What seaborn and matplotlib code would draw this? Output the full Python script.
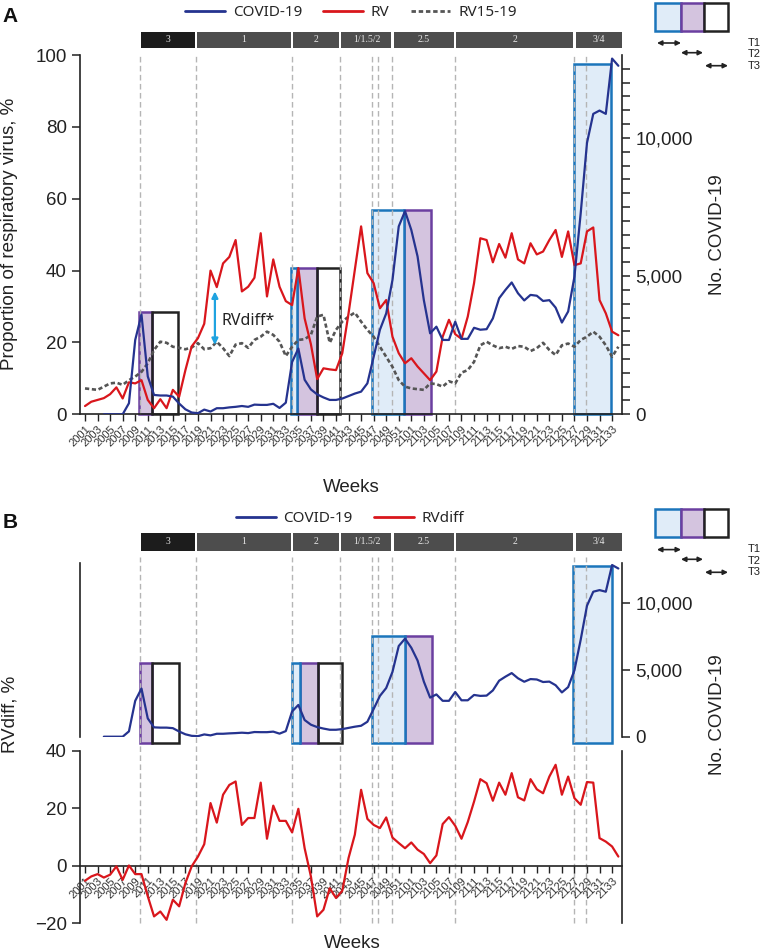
import pandas as pd
import matplotlib
matplotlib.use('Agg')
import matplotlib.pyplot as plt
import matplotlib.transforms as mtransforms
import seaborn as sns
from matplotlib.patches import Rectangle, FancyArrowPatch
from matplotlib.lines import Line2D
from matplotlib.ticker import FuncFormatter

# ---------------------------------------------------------------- data
weeks = [f'20{w:02d}' for w in range(1, 53)] + [f'21{w:02d}' for w in range(1, 35)]

# weekly COVID-19 cases (right axis)
covid = [None, None, None, 0, 0, 0, 0, 400, 2690, 3610,
         1370, 700, 680, 680, 640, 390, 180, 65, 40, 170,
         100, 220, 220, 250, 270, 300, 270, 350, 340, 340,
         380, 230, 420, 1890, 2380, 1250, 900, 720, 610, 520,
         520, 570, 660, 750, 820, 1120, 2080, 3060, 3650, 4860,
         6800, 7350, 6670, 5710, 4130, 2930, 3170, 2690, 2690, 3350,
         2730, 2730, 3130, 3060, 3080, 3470, 4200, 4500, 4770, 4380,
         4120, 4320, 4290, 4100, 4130, 3860, 3320, 3720, 4980, 7280,
         9820, 10870, 10990, 10870, 12870, 12610]

# proportion of rhinovirus, %
rv = [2.3, 3.5, 4.0, 4.5, 5.6, 7.5, 4.4, 8.9, 8.6, 9.5,
      4.0, 1.7, 4.2, 1.7, 6.8, 4.9, 12.3, 18.9, 21.2, 25.2,
      40.0, 35.4, 42.0, 43.8, 48.5, 34.2, 35.5, 38.0, 50.4, 32.8,
      43.1, 35.5, 31.5, 30.4, 40.7, 26.7, 19.5, 9.8, 12.8, 12.5,
      12.3, 17.0, 28.1, 40.2, 52.3, 39.3, 36.5, 29.5, 31.8, 21.6,
      17.0, 14.2, 15.6, 13.3, 11.4, 9.5, 11.9, 21.6, 26.3, 22.3,
      21.0, 27.2, 36.5, 49.0, 48.5, 42.3, 47.4, 43.6, 50.4, 43.1,
      42.0, 47.6, 44.5, 45.3, 48.5, 51.3, 43.8, 50.9, 41.5, 42.0,
      50.9, 52.0, 31.8, 28.1, 23.0, 22.0]

# 2015-2019 average proportion of rhinovirus, %
rv1519 = [7.2, 7.0, 6.8, 7.7, 8.6, 8.8, 8.2, 9.5, 10.5, 11.8,
          14.2, 17.9, 20.2, 19.9, 18.8, 18.5, 18.1, 18.6, 19.8, 18.1,
          18.4, 20.2, 18.4, 16.2, 19.4, 19.8, 18.5, 20.7, 21.6, 23.0,
          22.1, 20.2, 16.2, 18.8, 20.7, 20.9, 22.1, 27.2, 27.7, 19.9,
          23.5, 25.8, 27.2, 28.3, 25.8, 23.5, 21.6, 18.8, 16.0, 13.2,
          9.5, 7.7, 7.2, 7.0, 6.8, 8.6, 8.4, 7.7, 9.2, 8.6,
          11.6, 12.3, 14.6, 19.2, 20.2, 19.2, 18.4, 18.8, 18.2, 19.0,
          18.8, 17.6, 18.4, 19.9, 17.9, 16.5, 19.2, 19.7, 18.8, 20.7,
          21.6, 23.0, 21.6, 19.2, 16.0, 18.8]

# RVdiff, %
rvdiff = [-5.2, -3.7, -2.9, -4.1, -3.1, -0.2, -4.9, 0.1, -2.9, -2.9,
          -10.6, -17.6, -15.9, -18.8, -11.8, -14.1, -6.0, -0.2, 3.2, 7.5,
          21.8, 15.0, 24.7, 28.1, 29.3, 14.2, 16.6, 16.6, 28.9, 9.4,
          20.9, 15.6, 15.6, 11.6, 19.8, 6.1, -3.7, -17.6, -15.3, -7.8,
          -11.2, -8.7, 2.7, 10.8, 26.4, 16.3, 14.2, 13.1, 16.8, 9.8,
          7.9, 6.1, 8.1, 5.6, 4.1, 0.9, 3.6, 14.5, 16.9, 13.9,
          9.4, 15.2, 22.3, 30.1, 28.7, 22.6, 28.9, 24.7, 32.2, 23.8,
          22.7, 30.1, 26.6, 25.2, 31.0, 35.1, 24.7, 31.0, 23.5, 21.2,
          29.1, 28.9, 9.6, 8.4, 6.7, 3.2]

# social distancing levels (week index boundaries)
phase_labels = ['3', '1', '2', '1/1.5/2', '2.5', '2', '3/4']
phase_edges = [8.8, 17.7, 33.0, 40.7, 49.0, 59.0, 78.0, 85.8]
event_weeks = [8.8, 17.7, 33.0, 40.7, 45.8, 46.7, 49.0, 59.0, 78.0, 79.9]

# periods T1/T2/T3 : (period, start, end, top)
periods_a = [('T2', 8.6, 10.7, 28.4), ('T3', 10.7, 14.8, 28.4),
             ('T2', 33.8, 36.9, 40.8), ('T1', 32.9, 33.8, 40.8), ('T3', 37.0, 40.7, 40.8),
             ('T2', 50.9, 55.2, 56.9), ('T1', 45.8, 50.9, 56.9),
             ('T1', 77.9, 83.9, 97.6)]
periods_b = [('T2', 8.75, 10.7, 5550), ('T3', 10.7, 14.9, 5550),
             ('T2', 34.3, 37.2, 5550), ('T1', 33.0, 34.3, 5550), ('T3', 37.2, 41.0, 5550),
             ('T2', 51.0, 55.3, 7570), ('T1', 45.8, 51.0, 7570),
             ('T1', 77.8, 84.0, 12800)]

df = pd.DataFrame({'idx': range(len(weeks)), 'week': weeks, 'covid': covid,
                   'rv': rv, 'rv1519': rv1519, 'rvdiff': rvdiff})
df['covid'] = df['covid'].astype(float)

# ---------------------------------------------------------------- style
COV = '#25338f'
RED = '#d9161c'
GREY = '#555555'
VL = '#b5b5b5'
BOX = {'T1': ('#e0ecf8', '#1b75bb'), 'T2': ('#d4c4df', '#6b3fa0'), 'T3': ('none', '#222222')}

sns.set_theme(style='ticks')
plt.rcParams['font.family'] = ['Liberation Sans', 'DejaVu Sans']
plt.rcParams['axes.edgecolor'] = '#222222'
plt.rcParams['axes.linewidth'] = 1.2
plt.rcParams['xtick.color'] = '#222222'
plt.rcParams['ytick.color'] = '#222222'

W_PX, H_PX = 762, 952
fig = plt.figure(figsize=(7.62, 9.52), dpi=100)


def fx(x):
    return x / W_PX


def fy(y):
    return 1 - y / H_PX


XL = (-0.8, 85.58)
L, WID = fx(80), fx(622) - fx(80)
ax_a = fig.add_axes([L, fy(414.3), WID, (414.3 - 55) / H_PX])
ax_a2 = ax_a.twinx()
ax_bt = fig.add_axes([L, fy(736.7), WID, (736.7 - 563.3) / H_PX])
ax_bb = fig.add_axes([L, fy(923.3), WID, (923.3 - 750.7) / H_PX])
for ax in (ax_a, ax_a2, ax_bt, ax_bb):
    ax.set_xlim(*XL)
    ax.patch.set_visible(False)
    ax.grid(False)


def week_axis(ax):
    ax.set_xticks(range(0, len(weeks), 2))
    ax.set_xticklabels(weeks[::2], rotation=45, ha='right', rotation_mode='anchor',
                       fontsize=8, color='#333333')
    ax.tick_params(axis='x', length=5, width=1, pad=2)


def draw_periods(ax, periods, bottom):
    for kind, x0, x1, top in periods:
        face, edge = BOX[kind]
        ax.add_patch(Rectangle((x0, bottom), x1 - x0, top - bottom, facecolor=face,
                               edgecolor=edge, lw=1.8, zorder=1, clip_on=False))


def draw_phases(ax, y_top_px, y_bot_px, y0_line, y1_line):
    tr = mtransforms.blended_transform_factory(ax.transData, fig.transFigure)
    for i, lab in enumerate(phase_labels):
        x0, x1 = phase_edges[i] + 0.17, phase_edges[i + 1] - 0.17
        ax.add_patch(Rectangle((x0, fy(y_bot_px)), x1 - x0, (y_bot_px - y_top_px) / H_PX,
                               transform=tr, facecolor='#1c1c1c' if i == 0 else '#4d4d4d',
                               edgecolor='none', clip_on=False))
        ax.text((x0 + x1) / 2, fy((y_top_px + y_bot_px) / 2), lab, transform=tr,
                ha='center', va='center', fontsize=7, color='#e6e6e6',
                family=['Liberation Serif', 'DejaVu Serif'])
    for x in event_weeks:
        ax.plot([x, x], [fy(y1_line), fy(y0_line)], transform=tr, color=VL, lw=1,
                ls=(0, (4, 2.5)), zorder=1.5, clip_on=False)


def draw_key(top):
    xs = [655.3, 681, 703.7, 727.7]
    for kind, x0, x1 in zip(['T1', 'T2', 'T3'], xs[:-1], xs[1:]):
        face, edge = BOX[kind]
        fig.add_artist(Rectangle((fx(x0), fy(top + 28)), fx(x1) - fx(x0), 28 / H_PX,
                                 transform=fig.transFigure, facecolor=face if face != 'none' else 'white',
                                 edgecolor=edge, lw=1.8))
    arrows = [(657, 681, 40.3), (681, 703, 50), (705, 728, 63)]
    for (a, b, dy), lab, ty in zip(arrows, ['T1', 'T2', 'T3'], [40, 51.5, 63]):
        fig.add_artist(FancyArrowPatch((fx(a), fy(top + dy)), (fx(b), fy(top + dy)),
                                       transform=fig.transFigure, arrowstyle='<|-|>',
                                       mutation_scale=7, color='#222222', lw=1.2,
                                       shrinkA=0, shrinkB=0))
        fig.text(fx(747.7), fy(top + ty), lab, ha='left', va='center', fontsize=8,
                 color='#222222')


# ---------------------------------------------------------------- panel A
draw_periods(ax_a, periods_a, 0)
draw_phases(ax_a, 31.7, 48.3, 53, 414.3)
sns.lineplot(data=df, x='idx', y='rv1519', ax=ax_a, color=GREY, lw=1.9,
             linestyle=(0, (1.6, 1.0)), estimator=None, zorder=3)
sns.lineplot(data=df, x='idx', y='rv', ax=ax_a, color=RED, lw=1.6, estimator=None, zorder=4)
sns.lineplot(data=df, x='idx', y='covid', ax=ax_a2, color=COV, lw=1.6, estimator=None, zorder=4)

ax_a.set_ylim(0, 100)
ax_a.set_yticks(range(0, 101, 20))
ax_a.tick_params(axis='y', labelsize=13.5, length=6, width=1.1)
week_axis(ax_a)
ax_a.set_xlabel('')
ax_a.set_ylabel('')
ax_a.spines[['top', 'right']].set_visible(False)

ax_a2.set_ylim(0, 13000)
ax_a2.set_yticks(range(0, 12501, 500))
ax_a2.yaxis.set_major_formatter(FuncFormatter(lambda v, p: f'{int(v):,}' if v % 5000 == 0 else ''))
ax_a2.tick_params(axis='y', labelsize=13.5, length=6, width=1.1)
ax_a2.set_ylabel('')
ax_a2.spines[['top', 'left', 'bottom']].set_visible(False)

ax_a.annotate('', xy=(20.7, 34.2), xytext=(20.7, 19.3),
              arrowprops=dict(arrowstyle='<|-|>', color='#1fa3e0', lw=1.6,
                              mutation_scale=9, shrinkA=0, shrinkB=0), zorder=5)
ax_a.text(21.8, 26, 'RVdiff*', ha='left', va='center', fontsize=11.5,
          family=['Noto Sans', 'DejaVu Sans'], color='#222222')

fig.text(fx(10), fy(234), 'Proportion of respiratory virus, %', rotation=90,
         ha='center', va='center', fontsize=13.5, color='#222222')
fig.text(fx(718), fy(235), 'No. COVID-19', rotation=90, ha='center', va='center',
         fontsize=13.5, color='#222222')
fig.text(fx(351), fy(488), 'Weeks', ha='center', va='center', fontsize=13.5, color='#222222')
fig.text(fx(10.3), fy(16.3), 'A', ha='center', va='center', fontsize=15,
         fontweight='bold', color='#111111')

leg_font = {'family': ['Noto Sans', 'DejaVu Sans'], 'size': 11}
fig.legend(handles=[Line2D([], [], color=COV, lw=2), Line2D([], [], color=RED, lw=2),
                    Line2D([], [], color=GREY, lw=2, ls=(0, (1.6, 1.0)))],
           labels=['COVID-19', 'RV', 'RV15-19'], loc='center',
           bbox_to_anchor=(fx(351), fy(13)), ncol=3, frameon=False, prop=leg_font,
           handlelength=2.6, columnspacing=1.4, handletextpad=0.5)
draw_key(2.7)

# ---------------------------------------------------------------- panel B
draw_periods(ax_bt, periods_b, -500)
draw_phases(ax_bt, 533, 551, 557, 923.3)
sns.lineplot(data=df, x='idx', y='covid', ax=ax_bt, color=COV, lw=1.6, estimator=None, zorder=4)
ax_bt.set_ylim(0, 13000)
ax_bt.set_yticks([0, 5000, 10000])
ax_bt.yaxis.set_major_formatter(FuncFormatter(lambda v, p: f'{int(v):,}'))
ax_bt.tick_params(axis='y', left=False, labelleft=False, right=True, labelright=True,
                  labelsize=13.5, length=6, width=1.1)
ax_bt.tick_params(axis='x', bottom=False, labelbottom=False)
ax_bt.spines[['top', 'bottom']].set_visible(False)
ax_bt.set_xlabel('')
ax_bt.set_ylabel('')

sns.lineplot(data=df, x='idx', y='rvdiff', ax=ax_bb, color=RED, lw=1.6, estimator=None, zorder=4)
# move the spine first: set_position resets the tick labels
ax_bb.spines['top'].set_visible(False)
ax_bb.spines['bottom'].set_position(('data', 0))
ax_bb.set_ylim(-20, 40)
ax_bb.set_yticks([-20, 0, 20, 40])
ax_bb.tick_params(axis='y', labelsize=13.5, length=6, width=1.1, right=False)
week_axis(ax_bb)
ax_bb.set_xlabel('')
ax_bb.set_ylabel('')

fig.text(fx(10), fy(714), 'RVdiff, %', rotation=90, ha='center', va='center',
         fontsize=13.5, color='#222222')
fig.text(fx(717), fy(715), 'No. COVID-19', rotation=90, ha='center', va='center',
         fontsize=13.5, color='#222222')
fig.text(fx(352), fy(943), 'Weeks', ha='center', va='center', fontsize=13.5, color='#222222')
fig.text(fx(10.5), fy(522), 'B', ha='center', va='center', fontsize=15,
         fontweight='bold', color='#111111')
fig.legend(handles=[Line2D([], [], color=COV, lw=2), Line2D([], [], color=RED, lw=2)],
           labels=['COVID-19', 'RVdiff'], loc='center',
           bbox_to_anchor=(fx(350), fy(519)), ncol=2, frameon=False, prop=leg_font,
           handlelength=2.6, columnspacing=1.4, handletextpad=0.5)
draw_key(509.3)

fig.savefig('out.png', dpi=100)
plt.close(fig)
